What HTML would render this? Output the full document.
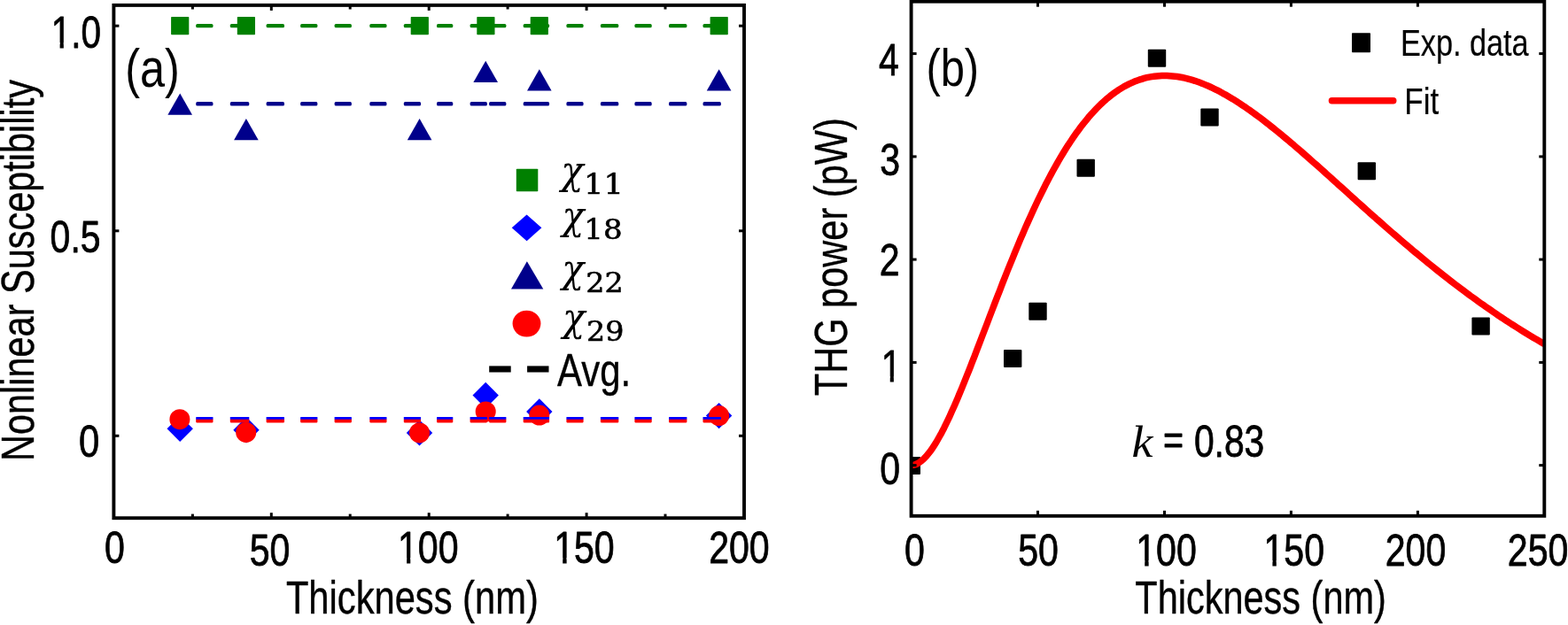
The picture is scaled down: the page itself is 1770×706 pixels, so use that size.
<!DOCTYPE html>
<html lang="en"><head><meta charset="utf-8"><title>Figure</title>
<style>html,body{margin:0;padding:0;background:#fff;}body{width:1770px;height:706px;overflow:hidden;}svg{display:block;}</style>
</head><body>
<svg width="1770" height="706" viewBox="0 0 1770 706">
<rect width="1770" height="706" fill="#fff"/>
<rect x="221.2" y="26.95" width="19.3" height="4.3" rx="1.6" fill="#008000"/>
<rect x="259.8" y="26.95" width="21.5" height="4.3" rx="1.6" fill="#008000"/>
<rect x="300.6" y="26.95" width="20.4" height="4.3" rx="1.6" fill="#008000"/>
<rect x="339.1" y="26.95" width="19.3" height="4.3" rx="1.6" fill="#008000"/>
<rect x="377.6" y="26.95" width="19.3" height="4.3" rx="1.6" fill="#008000"/>
<rect x="417.3" y="26.95" width="19.2" height="4.3" rx="1.6" fill="#008000"/>
<rect x="455.8" y="26.95" width="19.3" height="4.3" rx="1.6" fill="#008000"/>
<rect x="493.0" y="26.95" width="18.3" height="4.3" rx="1.6" fill="#008000"/>
<rect x="530.6" y="26.95" width="19.3" height="4.3" rx="1.6" fill="#008000"/>
<rect x="552.1" y="26.95" width="19.3" height="4.3" rx="1.6" fill="#008000"/>
<rect x="590.7" y="26.95" width="29.4" height="4.3" rx="1.6" fill="#008000"/>
<rect x="639.4" y="26.95" width="19.2" height="4.3" rx="1.6" fill="#008000"/>
<rect x="677.9" y="26.95" width="20.4" height="4.3" rx="1.6" fill="#008000"/>
<rect x="716.4" y="26.95" width="19.3" height="4.3" rx="1.6" fill="#008000"/>
<rect x="755.0" y="26.95" width="20.4" height="4.3" rx="1.6" fill="#008000"/>
<rect x="793.5" y="26.95" width="20.4" height="4.3" rx="1.6" fill="#008000"/>
<rect x="221.2" y="115.10" width="19.3" height="4.4" rx="1.6" fill="#00008b"/>
<rect x="259.8" y="115.10" width="21.5" height="4.4" rx="1.6" fill="#00008b"/>
<rect x="300.6" y="115.10" width="20.4" height="4.4" rx="1.6" fill="#00008b"/>
<rect x="339.1" y="115.10" width="19.3" height="4.4" rx="1.6" fill="#00008b"/>
<rect x="377.6" y="115.10" width="19.3" height="4.4" rx="1.6" fill="#00008b"/>
<rect x="417.3" y="115.10" width="19.2" height="4.4" rx="1.6" fill="#00008b"/>
<rect x="455.8" y="115.10" width="19.3" height="4.4" rx="1.6" fill="#00008b"/>
<rect x="493.0" y="115.10" width="18.3" height="4.4" rx="1.6" fill="#00008b"/>
<rect x="530.6" y="115.10" width="19.3" height="4.4" rx="1.6" fill="#00008b"/>
<rect x="552.1" y="115.10" width="19.3" height="4.4" rx="1.6" fill="#00008b"/>
<rect x="590.7" y="115.10" width="29.4" height="4.4" rx="1.6" fill="#00008b"/>
<rect x="639.4" y="115.10" width="19.2" height="4.4" rx="1.6" fill="#00008b"/>
<rect x="677.9" y="115.10" width="20.4" height="4.4" rx="1.6" fill="#00008b"/>
<rect x="716.4" y="115.10" width="19.3" height="4.4" rx="1.6" fill="#00008b"/>
<rect x="755.0" y="115.10" width="20.4" height="4.4" rx="1.6" fill="#00008b"/>
<rect x="793.5" y="115.10" width="20.4" height="4.4" rx="1.6" fill="#00008b"/>
<rect x="193.1" y="19.0" width="20.2" height="20.2" rx="0.8" fill="#008000"/>
<rect x="267.8" y="19.0" width="20.2" height="20.2" rx="0.8" fill="#008000"/>
<rect x="463.7" y="19.0" width="20.2" height="20.2" rx="0.8" fill="#008000"/>
<rect x="538.3" y="19.0" width="20.2" height="20.2" rx="0.8" fill="#008000"/>
<rect x="598.7" y="19.0" width="20.2" height="20.2" rx="0.8" fill="#008000"/>
<rect x="801.6" y="19.0" width="20.2" height="20.2" rx="0.8" fill="#008000"/>
<polygon points="203.2,105.6 189.4,129.8 217.0,129.8" fill="#00008b"/>
<polygon points="277.9,134.0 264.1,158.2 291.7,158.2" fill="#00008b"/>
<polygon points="473.6,134.0 459.8,158.2 487.4,158.2" fill="#00008b"/>
<polygon points="548.2,68.7 534.4,92.9 562.0,92.9" fill="#00008b"/>
<polygon points="608.8,78.2 595.0,102.4 622.6,102.4" fill="#00008b"/>
<polygon points="811.6,78.2 797.8,102.4 825.4,102.4" fill="#00008b"/>
<polygon points="203.2,469.6 217.9,484.3 203.2,499.0 188.5,484.3" fill="#0000ff"/>
<polygon points="278.0,471.0 292.7,485.7 278.0,500.4 263.3,485.7" fill="#0000ff"/>
<polygon points="473.5,474.2 488.2,488.9 473.5,503.6 458.8,488.9" fill="#0000ff"/>
<polygon points="548.2,431.8 562.9,446.5 548.2,461.2 533.5,446.5" fill="#0000ff"/>
<polygon points="608.8,450.3 623.5,465.0 608.8,479.7 594.1,465.0" fill="#0000ff"/>
<polygon points="811.6,454.9 826.3,469.6 811.6,484.3 796.9,469.6" fill="#0000ff"/>
<circle cx="202.9" cy="473.7" r="11.5" fill="#ff0000"/>
<circle cx="277.7" cy="488.4" r="11.5" fill="#ff0000"/>
<circle cx="473.5" cy="488.9" r="11.5" fill="#ff0000"/>
<circle cx="548.2" cy="465.0" r="11.5" fill="#ff0000"/>
<circle cx="608.8" cy="469.1" r="11.5" fill="#ff0000"/>
<circle cx="811.6" cy="469.6" r="11.5" fill="#ff0000"/>
<rect x="221.2" y="473.00" width="19.3" height="4.4" rx="0.8" fill="#ff0000"/>
<rect x="259.8" y="473.00" width="21.5" height="4.4" rx="0.8" fill="#ff0000"/>
<rect x="300.6" y="473.00" width="20.4" height="4.4" rx="0.8" fill="#ff0000"/>
<rect x="339.1" y="473.00" width="19.3" height="4.4" rx="0.8" fill="#ff0000"/>
<rect x="377.6" y="473.00" width="19.3" height="4.4" rx="0.8" fill="#ff0000"/>
<rect x="417.3" y="473.00" width="19.2" height="4.4" rx="0.8" fill="#ff0000"/>
<rect x="455.8" y="473.00" width="19.3" height="4.4" rx="0.8" fill="#ff0000"/>
<rect x="493.0" y="473.00" width="18.3" height="4.4" rx="0.8" fill="#ff0000"/>
<rect x="530.6" y="473.00" width="19.3" height="4.4" rx="0.8" fill="#ff0000"/>
<rect x="552.1" y="473.00" width="19.3" height="4.4" rx="0.8" fill="#ff0000"/>
<rect x="590.7" y="473.00" width="29.4" height="4.4" rx="0.8" fill="#ff0000"/>
<rect x="639.4" y="473.00" width="19.2" height="4.4" rx="0.8" fill="#ff0000"/>
<rect x="677.9" y="473.00" width="20.4" height="4.4" rx="0.8" fill="#ff0000"/>
<rect x="716.4" y="473.00" width="19.3" height="4.4" rx="0.8" fill="#ff0000"/>
<rect x="755.0" y="473.00" width="20.4" height="4.4" rx="0.8" fill="#ff0000"/>
<rect x="793.5" y="473.00" width="20.4" height="4.4" rx="0.8" fill="#ff0000"/>
<rect x="221.2" y="471.00" width="19.3" height="2.8" rx="0.6" fill="#0000ff"/>
<rect x="259.8" y="471.00" width="21.5" height="2.8" rx="0.6" fill="#0000ff"/>
<rect x="300.6" y="471.00" width="20.4" height="2.8" rx="0.6" fill="#0000ff"/>
<rect x="339.1" y="471.00" width="19.3" height="2.8" rx="0.6" fill="#0000ff"/>
<rect x="377.6" y="471.00" width="19.3" height="2.8" rx="0.6" fill="#0000ff"/>
<rect x="417.3" y="471.00" width="19.2" height="2.8" rx="0.6" fill="#0000ff"/>
<rect x="455.8" y="471.00" width="19.3" height="2.8" rx="0.6" fill="#0000ff"/>
<rect x="493.0" y="471.00" width="18.3" height="2.8" rx="0.6" fill="#0000ff"/>
<rect x="530.6" y="471.00" width="19.3" height="2.8" rx="0.6" fill="#0000ff"/>
<rect x="552.1" y="471.00" width="19.3" height="2.8" rx="0.6" fill="#0000ff"/>
<rect x="590.7" y="471.00" width="29.4" height="2.8" rx="0.6" fill="#0000ff"/>
<rect x="639.4" y="471.00" width="19.2" height="2.8" rx="0.6" fill="#0000ff"/>
<rect x="677.9" y="471.00" width="20.4" height="2.8" rx="0.6" fill="#0000ff"/>
<rect x="716.4" y="471.00" width="19.3" height="2.8" rx="0.6" fill="#0000ff"/>
<rect x="755.0" y="471.00" width="20.4" height="2.8" rx="0.6" fill="#0000ff"/>
<rect x="793.5" y="471.00" width="20.4" height="2.8" rx="0.6" fill="#0000ff"/>
<rect x="582.8" y="190.8" width="24.5" height="25.4" rx="0.8" fill="#008000"/>
<polygon points="594.6,242.5 611.4,257.3 594.6,272.2 577.7,257.3" fill="#0000ff"/>
<polygon points="594.9,295.2 613.3,326.5 577,326.5" fill="#00008b"/>
<ellipse cx="594.5" cy="365.6" rx="15.9" ry="14.9" fill="#ff0000"/>
<rect x="552.2" y="413.4" width="24.5" height="7.1" fill="#000"/>
<rect x="595.1" y="413.4" width="24.4" height="7.1" fill="#000"/>
<text transform="translate(633.15,207.90) scale(0.9206,1)" font-size="45.40" font-family="DejaVu Serif, Liberation Serif, serif" font-style="italic">χ</text>
<text transform="translate(659.12,219.05) scale(1.1217,1)" font-size="31.46" font-family="DejaVu Serif, Liberation Serif, serif" stroke="#000" stroke-width="0.6" stroke-linejoin="round">11</text>
<text transform="translate(634.40,259.30) scale(0.9052,1)" font-size="45.40" font-family="DejaVu Serif, Liberation Serif, serif" font-style="italic">χ</text>
<text transform="translate(659.25,269.75) scale(1.1031,1)" font-size="30.85" font-family="DejaVu Serif, Liberation Serif, serif" stroke="#000" stroke-width="0.6" stroke-linejoin="round">18</text>
<text transform="translate(634.30,319.20) scale(0.9215,1)" font-size="44.74" font-family="DejaVu Serif, Liberation Serif, serif" font-style="italic">χ</text>
<text transform="translate(661.25,329.95) scale(1.0494,1)" font-size="31.79" font-family="DejaVu Serif, Liberation Serif, serif" stroke="#000" stroke-width="0.6" stroke-linejoin="round">22</text>
<text transform="translate(634.95,374.20) scale(0.9372,1)" font-size="44.74" font-family="DejaVu Serif, Liberation Serif, serif" font-style="italic">χ</text>
<text transform="translate(662.00,384.75) scale(1.0682,1)" font-size="31.17" font-family="DejaVu Serif, Liberation Serif, serif" stroke="#000" stroke-width="0.6" stroke-linejoin="round">29</text>
<text transform="translate(629.05,436.00) scale(0.8200,1)" font-size="51.07" font-family="Liberation Sans, Arial, sans-serif" stroke="#000" stroke-width="0.4" stroke-linejoin="round">Avg.</text>
<rect x="128.4" y="5.9" width="711.6" height="579.3000000000001" fill="none" stroke="#000" stroke-width="3.9"/>
<line x1="217.4" y1="585.2" x2="217.4" y2="580.6" stroke="#000" stroke-width="3.0"/>
<line x1="217.4" y1="5.9" x2="217.4" y2="10.5" stroke="#000" stroke-width="3.0"/>
<line x1="306.3" y1="585.2" x2="306.3" y2="579.2" stroke="#000" stroke-width="3.0"/>
<line x1="306.3" y1="5.9" x2="306.3" y2="11.9" stroke="#000" stroke-width="3.0"/>
<line x1="395.2" y1="585.2" x2="395.2" y2="580.6" stroke="#000" stroke-width="3.0"/>
<line x1="395.2" y1="5.9" x2="395.2" y2="10.5" stroke="#000" stroke-width="3.0"/>
<line x1="484.2" y1="585.2" x2="484.2" y2="579.2" stroke="#000" stroke-width="3.0"/>
<line x1="484.2" y1="5.9" x2="484.2" y2="11.9" stroke="#000" stroke-width="3.0"/>
<line x1="573.1" y1="585.2" x2="573.1" y2="580.6" stroke="#000" stroke-width="3.0"/>
<line x1="573.1" y1="5.9" x2="573.1" y2="10.5" stroke="#000" stroke-width="3.0"/>
<line x1="662.1" y1="585.2" x2="662.1" y2="579.2" stroke="#000" stroke-width="3.0"/>
<line x1="662.1" y1="5.9" x2="662.1" y2="11.9" stroke="#000" stroke-width="3.0"/>
<line x1="751.0" y1="585.2" x2="751.0" y2="580.6" stroke="#000" stroke-width="3.0"/>
<line x1="751.0" y1="5.9" x2="751.0" y2="10.5" stroke="#000" stroke-width="3.0"/>
<line x1="128.4" y1="492.3" x2="134.4" y2="492.3" stroke="#000" stroke-width="3.0"/>
<line x1="840.0" y1="492.3" x2="834.0" y2="492.3" stroke="#000" stroke-width="3.0"/>
<line x1="128.4" y1="260.8" x2="134.4" y2="260.8" stroke="#000" stroke-width="3.0"/>
<line x1="840.0" y1="260.8" x2="834.0" y2="260.8" stroke="#000" stroke-width="3.0"/>
<line x1="128.4" y1="29.2" x2="134.4" y2="29.2" stroke="#000" stroke-width="3.0"/>
<line x1="840.0" y1="29.2" x2="834.0" y2="29.2" stroke="#000" stroke-width="3.0"/>
<text transform="translate(57.70,54.10) scale(0.8047,1)" font-size="50.41" font-family="Liberation Sans, Arial, sans-serif" stroke="#000" stroke-width="0.8" stroke-linejoin="round">1.0</text>
<text transform="translate(56.62,284.70) scale(0.8125,1)" font-size="50.41" font-family="Liberation Sans, Arial, sans-serif" stroke="#000" stroke-width="0.8" stroke-linejoin="round">0.5</text>
<text transform="translate(89.03,515.70) scale(0.8300,1)" font-size="50.41" font-family="Liberation Sans, Arial, sans-serif" stroke="#000" stroke-width="0.8" stroke-linejoin="round">0</text>
<text transform="translate(117.93,636.20) scale(0.8150,1)" font-size="50.41" font-family="Liberation Sans, Arial, sans-serif" stroke="#000" stroke-width="0.8" stroke-linejoin="round">0</text>
<text transform="translate(281.77,639.00) scale(0.8150,1)" font-size="50.41" font-family="Liberation Sans, Arial, sans-serif" stroke="#000" stroke-width="0.8" stroke-linejoin="round">50</text>
<text transform="translate(449.00,635.90) scale(0.8150,1)" font-size="50.41" font-family="Liberation Sans, Arial, sans-serif" stroke="#000" stroke-width="0.8" stroke-linejoin="round">100</text>
<text transform="translate(625.15,636.20) scale(0.8150,1)" font-size="50.41" font-family="Liberation Sans, Arial, sans-serif" stroke="#000" stroke-width="0.8" stroke-linejoin="round">150</text>
<text transform="translate(800.15,636.20) scale(0.8150,1)" font-size="50.41" font-family="Liberation Sans, Arial, sans-serif" stroke="#000" stroke-width="0.8" stroke-linejoin="round">200</text>
<text transform="translate(322.88,693.40) scale(0.8164,1)" font-size="51.07" font-family="Liberation Sans, Arial, sans-serif" stroke="#000" stroke-width="0.4" stroke-linejoin="round">Thickness (nm)</text>
<text transform="translate(38.20,520.95) rotate(-90) scale(0.8119,1)" font-size="51.07" font-family="Liberation Sans, Arial, sans-serif" stroke="#000" stroke-width="0.4" stroke-linejoin="round">Nonlinear Susceptibility</text>
<text transform="translate(141.20,97.50) scale(0.8312,1)" font-size="60.70" font-family="Liberation Sans, Arial, sans-serif">(a)</text>
<clipPath id="cb"><rect x="1028.6" y="1.7" width="714.7" height="581.0999999999999"/></clipPath>
<g clip-path="url(#cb)">
<rect x="1018.6" y="516.1" width="20.4" height="20" rx="1" fill="#000"/>
<rect x="1133.0" y="395.0" width="20.4" height="20" rx="1" fill="#000"/>
<rect x="1161.3" y="341.8" width="20.4" height="20" rx="1" fill="#000"/>
<rect x="1215.5" y="179.8" width="20.4" height="20" rx="1" fill="#000"/>
<rect x="1295.8" y="55.8" width="20.4" height="20" rx="1" fill="#000"/>
<rect x="1355.3" y="122.4" width="20.4" height="20" rx="1" fill="#000"/>
<rect x="1532.6" y="183.2" width="20.4" height="20" rx="1" fill="#000"/>
<rect x="1661.4" y="358.4" width="20.4" height="20" rx="1" fill="#000"/>
<polyline points="1028.6,525.6 1031.5,525.3 1034.3,524.4 1037.2,522.8 1040.0,520.8 1042.9,518.2 1045.8,515.2 1048.6,511.7 1051.5,507.9 1054.3,503.6 1057.2,499.0 1060.0,494.0 1062.9,488.8 1065.8,483.2 1068.6,477.4 1071.5,471.4 1074.3,465.1 1077.2,458.7 1080.1,452.1 1082.9,445.3 1085.8,438.4 1088.6,431.4 1091.5,424.2 1094.4,417.0 1097.2,409.7 1100.1,402.3 1102.9,394.9 1105.8,387.4 1108.6,380.0 1111.5,372.5 1114.4,365.0 1117.2,357.5 1120.1,350.0 1122.9,342.6 1125.8,335.1 1128.7,327.8 1131.5,320.4 1134.4,313.2 1137.2,306.0 1140.1,298.9 1143.0,291.8 1145.8,284.8 1148.7,277.9 1151.5,271.1 1154.4,264.5 1157.2,257.9 1160.1,251.4 1163.0,245.0 1165.8,238.7 1168.7,232.5 1171.5,226.5 1174.4,220.6 1177.3,214.8 1180.1,209.1 1183.0,203.6 1185.8,198.1 1188.7,192.8 1191.6,187.7 1194.4,182.6 1197.3,177.7 1200.1,173.0 1203.0,168.3 1205.8,163.8 1208.7,159.5 1211.6,155.2 1214.4,151.1 1217.3,147.2 1220.1,143.3 1223.0,139.6 1225.9,136.1 1228.7,132.6 1231.6,129.3 1234.4,126.2 1237.3,123.1 1240.2,120.2 1243.0,117.4 1245.9,114.8 1248.7,112.2 1251.6,109.8 1254.4,107.5 1257.3,105.4 1260.2,103.3 1263.0,101.4 1265.9,99.6 1268.7,97.9 1271.6,96.4 1274.5,94.9 1277.3,93.6 1280.2,92.3 1283.0,91.2 1285.9,90.2 1288.8,89.3 1291.6,88.4 1294.5,87.7 1297.3,87.1 1300.2,86.6 1303.0,86.2 1305.9,85.9 1308.8,85.7 1311.6,85.5 1314.5,85.5 1317.3,85.5 1320.2,85.7 1323.1,85.9 1325.9,86.2 1328.8,86.5 1331.6,87.0 1334.5,87.5 1337.4,88.1 1340.2,88.8 1343.1,89.6 1345.9,90.4 1348.8,91.3 1351.6,92.3 1354.5,93.3 1357.4,94.4 1360.2,95.6 1363.1,96.8 1365.9,98.0 1368.8,99.4 1371.7,100.8 1374.5,102.2 1377.4,103.7 1380.2,105.3 1383.1,106.8 1385.9,108.5 1388.8,110.2 1391.7,111.9 1394.5,113.7 1397.4,115.5 1400.2,117.4 1403.1,119.3 1406.0,121.2 1408.8,123.2 1411.7,125.2 1414.5,127.3 1417.4,129.4 1420.3,131.5 1423.1,133.6 1426.0,135.8 1428.8,138.0 1431.7,140.2 1434.5,142.5 1437.4,144.8 1440.3,147.1 1443.1,149.4 1446.0,151.7 1448.8,154.1 1451.7,156.5 1454.6,158.9 1457.4,161.3 1460.3,163.7 1463.1,166.2 1466.0,168.7 1468.9,171.1 1471.7,173.6 1474.6,176.1 1477.4,178.6 1480.3,181.2 1483.1,183.7 1486.0,186.2 1488.9,188.8 1491.7,191.3 1494.6,193.9 1497.4,196.5 1500.3,199.0 1503.2,201.6 1506.0,204.2 1508.9,206.8 1511.7,209.4 1514.6,211.9 1517.5,214.5 1520.3,217.1 1523.2,219.7 1526.0,222.3 1528.9,224.8 1531.7,227.4 1534.6,230.0 1537.5,232.6 1540.3,235.1 1543.2,237.7 1546.0,240.3 1548.9,242.8 1551.8,245.3 1554.6,247.9 1557.5,250.4 1560.3,252.9 1563.2,255.5 1566.1,258.0 1568.9,260.5 1571.8,263.0 1574.6,265.4 1577.5,267.9 1580.3,270.4 1583.2,272.8 1586.1,275.3 1588.9,277.7 1591.8,280.1 1594.6,282.6 1597.5,285.0 1600.4,287.3 1603.2,289.7 1606.1,292.1 1608.9,294.4 1611.8,296.8 1614.7,299.1 1617.5,301.4 1620.4,303.7 1623.2,306.0 1626.1,308.3 1628.9,310.5 1631.8,312.8 1634.7,315.0 1637.5,317.2 1640.4,319.4 1643.2,321.6 1646.1,323.8 1649.0,326.0 1651.8,328.1 1654.7,330.2 1657.5,332.4 1660.4,334.5 1663.3,336.5 1666.1,338.6 1669.0,340.7 1671.8,342.7 1674.7,344.7 1677.5,346.7 1680.4,348.7 1683.3,350.7 1686.1,352.7 1689.0,354.6 1691.8,356.6 1694.7,358.5 1697.6,360.4 1700.4,362.3 1703.3,364.1 1706.1,366.0 1709.0,367.8 1711.9,369.6 1714.7,371.4 1717.6,373.2 1720.4,375.0 1723.3,376.8 1726.1,378.5 1729.0,380.2 1731.9,382.0 1734.7,383.6 1737.6,385.3 1740.4,387.0 1743.3,388.6" fill="none" stroke="#ff0000" stroke-width="7.5" stroke-linejoin="round"/>
</g>
<rect x="1526" y="37.2" width="21" height="22" rx="0.8" fill="#000"/>
<line x1="1503.4" y1="113.7" x2="1572.8" y2="113.7" stroke="#ff0000" stroke-width="7.4" stroke-linecap="round"/>
<text transform="translate(1581.00,62.80) scale(0.8044,1)" font-size="42.59" font-family="Liberation Sans, Arial, sans-serif" stroke="#000" stroke-width="0.2" stroke-linejoin="round">Exp. data</text>
<text transform="translate(1585.35,128.70) scale(0.8200,1)" font-size="42.59" font-family="Liberation Sans, Arial, sans-serif" stroke="#000" stroke-width="0.2" stroke-linejoin="round">Fit</text>
<text transform="translate(1277.47,516.40) scale(1.0479,1)" font-size="51.44" font-family="Liberation Serif, Times New Roman, serif" font-style="italic">k</text>
<text transform="translate(1312.95,513.05) scale(0.8527,1)" font-size="46.33" font-family="Liberation Sans, Arial, sans-serif" stroke="#000" stroke-width="0.8" stroke-linejoin="round">=</text>
<text transform="translate(1347.88,515.60) scale(0.8095,1)" font-size="50.41" font-family="Liberation Sans, Arial, sans-serif" stroke="#000" stroke-width="0.8" stroke-linejoin="round">0.83</text>
<text transform="translate(1045.38,97.00) scale(0.8200,1)" font-size="59.63" font-family="Liberation Sans, Arial, sans-serif">(b)</text>
<rect x="1028.6" y="1.7" width="714.7" height="581.0999999999999" fill="none" stroke="#000" stroke-width="3.9"/>
<line x1="1171.5" y1="582.8" x2="1171.5" y2="576.8" stroke="#000" stroke-width="3.0"/>
<line x1="1171.5" y1="1.7" x2="1171.5" y2="7.7" stroke="#000" stroke-width="3.0"/>
<line x1="1314.5" y1="582.8" x2="1314.5" y2="576.8" stroke="#000" stroke-width="3.0"/>
<line x1="1314.5" y1="1.7" x2="1314.5" y2="7.7" stroke="#000" stroke-width="3.0"/>
<line x1="1457.4" y1="582.8" x2="1457.4" y2="576.8" stroke="#000" stroke-width="3.0"/>
<line x1="1457.4" y1="1.7" x2="1457.4" y2="7.7" stroke="#000" stroke-width="3.0"/>
<line x1="1600.4" y1="582.8" x2="1600.4" y2="576.8" stroke="#000" stroke-width="3.0"/>
<line x1="1600.4" y1="1.7" x2="1600.4" y2="7.7" stroke="#000" stroke-width="3.0"/>
<line x1="1028.6" y1="525.6" x2="1034.6" y2="525.6" stroke="#000" stroke-width="3.0"/>
<line x1="1743.3" y1="525.6" x2="1737.3" y2="525.6" stroke="#000" stroke-width="3.0"/>
<line x1="1028.6" y1="409.4" x2="1034.6" y2="409.4" stroke="#000" stroke-width="3.0"/>
<line x1="1743.3" y1="409.4" x2="1737.3" y2="409.4" stroke="#000" stroke-width="3.0"/>
<line x1="1028.6" y1="293.1" x2="1034.6" y2="293.1" stroke="#000" stroke-width="3.0"/>
<line x1="1743.3" y1="293.1" x2="1737.3" y2="293.1" stroke="#000" stroke-width="3.0"/>
<line x1="1028.6" y1="176.9" x2="1034.6" y2="176.9" stroke="#000" stroke-width="3.0"/>
<line x1="1743.3" y1="176.9" x2="1737.3" y2="176.9" stroke="#000" stroke-width="3.0"/>
<line x1="1028.6" y1="60.6" x2="1034.6" y2="60.6" stroke="#000" stroke-width="3.0"/>
<line x1="1743.3" y1="60.6" x2="1737.3" y2="60.6" stroke="#000" stroke-width="3.0"/>
<text transform="translate(992.10,85.30) scale(0.8150,1)" font-size="50.41" font-family="Liberation Sans, Arial, sans-serif" stroke="#000" stroke-width="0.8" stroke-linejoin="round">4</text>
<text transform="translate(993.17,197.50) scale(0.8150,1)" font-size="50.41" font-family="Liberation Sans, Arial, sans-serif" stroke="#000" stroke-width="0.8" stroke-linejoin="round">3</text>
<text transform="translate(992.70,310.50) scale(0.8150,1)" font-size="50.41" font-family="Liberation Sans, Arial, sans-serif" stroke="#000" stroke-width="0.8" stroke-linejoin="round">2</text>
<text transform="translate(994.65,431.00) scale(0.8150,1)" font-size="50.41" font-family="Liberation Sans, Arial, sans-serif" stroke="#000" stroke-width="0.8" stroke-linejoin="round">1</text>
<text transform="translate(993.17,546.70) scale(0.8150,1)" font-size="50.41" font-family="Liberation Sans, Arial, sans-serif" stroke="#000" stroke-width="0.8" stroke-linejoin="round">0</text>
<text transform="translate(1021.03,638.50) scale(0.8150,1)" font-size="50.41" font-family="Liberation Sans, Arial, sans-serif" stroke="#000" stroke-width="0.8" stroke-linejoin="round">0</text>
<text transform="translate(1149.17,638.50) scale(0.8150,1)" font-size="50.41" font-family="Liberation Sans, Arial, sans-serif" stroke="#000" stroke-width="0.8" stroke-linejoin="round">50</text>
<text transform="translate(1282.20,638.50) scale(0.8150,1)" font-size="50.41" font-family="Liberation Sans, Arial, sans-serif" stroke="#000" stroke-width="0.8" stroke-linejoin="round">100</text>
<text transform="translate(1426.50,638.50) scale(0.8150,1)" font-size="50.41" font-family="Liberation Sans, Arial, sans-serif" stroke="#000" stroke-width="0.8" stroke-linejoin="round">150</text>
<text transform="translate(1563.70,638.50) scale(0.8150,1)" font-size="50.41" font-family="Liberation Sans, Arial, sans-serif" stroke="#000" stroke-width="0.8" stroke-linejoin="round">200</text>
<text transform="translate(1701.85,638.50) scale(0.8150,1)" font-size="50.41" font-family="Liberation Sans, Arial, sans-serif" stroke="#000" stroke-width="0.8" stroke-linejoin="round">250</text>
<text transform="translate(1281.30,693.40) scale(0.8128,1)" font-size="51.07" font-family="Liberation Sans, Arial, sans-serif" stroke="#000" stroke-width="0.4" stroke-linejoin="round">Thickness (nm)</text>
<text transform="translate(956.40,447.15) rotate(-90) scale(0.8141,1)" font-size="51.07" font-family="Liberation Sans, Arial, sans-serif" stroke="#000" stroke-width="0.4" stroke-linejoin="round">THG power (pW)</text>
<rect x="55.50" y="48.00" width="12.10" height="8.60" fill="#fff"/>
<rect x="71.82" y="48.00" width="9.18" height="8.60" fill="#fff"/>
<rect x="447.50" y="630.00" width="11.62" height="8.40" fill="#fff"/>
<rect x="463.29" y="630.00" width="9.71" height="8.40" fill="#fff"/>
<rect x="623.50" y="630.00" width="11.71" height="8.70" fill="#fff"/>
<rect x="639.63" y="630.00" width="9.37" height="8.70" fill="#fff"/>
<rect x="992.50" y="425.00" width="12.25" height="8.50" fill="#fff"/>
<rect x="1008.88" y="425.00" width="9.12" height="8.50" fill="#fff"/>
<rect x="1280.50" y="633.00" width="11.71" height="8.00" fill="#fff"/>
<rect x="1296.63" y="633.00" width="9.37" height="8.00" fill="#fff"/>
<rect x="1424.50" y="633.00" width="11.92" height="8.00" fill="#fff"/>
<rect x="1440.80" y="633.00" width="9.20" height="8.00" fill="#fff"/>
</svg>
</body></html>
